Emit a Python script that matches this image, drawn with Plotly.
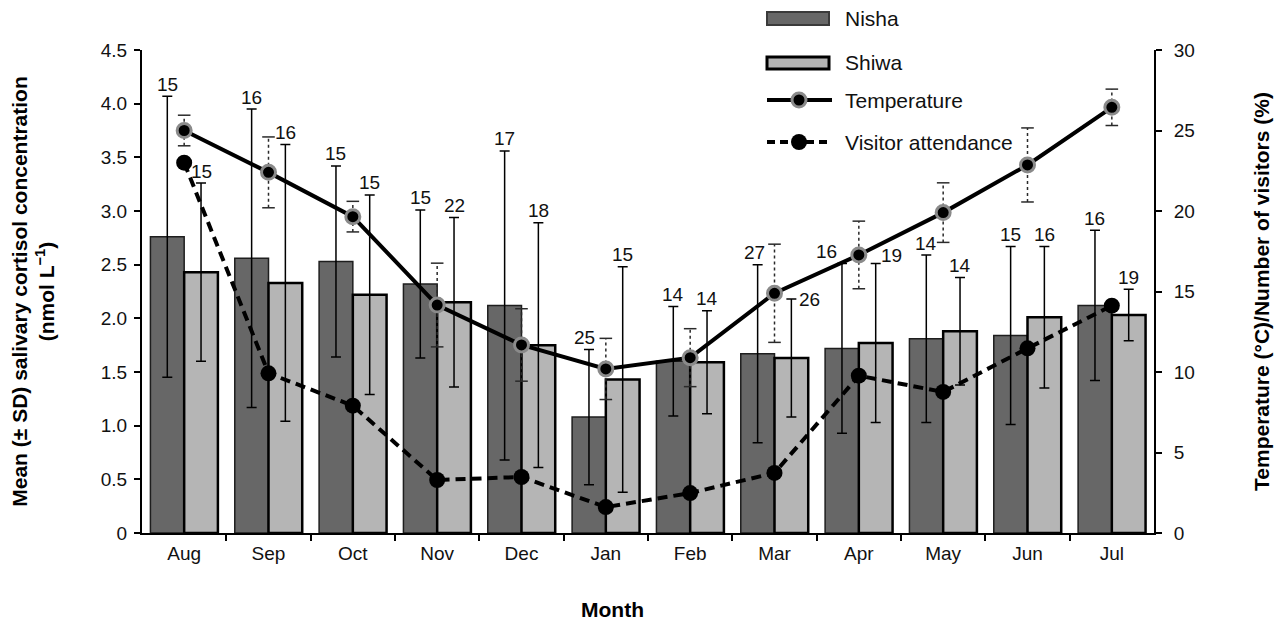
import numpy as np
import plotly.graph_objects as go

# ---------------- data ----------------
months = ["Aug", "Sep", "Oct", "Nov", "Dec", "Jan", "Feb", "Mar", "Apr", "May", "Jun", "Jul"]

nisha_mean = [2.76, 2.56, 2.53, 2.32, 2.12, 1.08, 1.60, 1.67, 1.72, 1.81, 1.84, 2.12]
nisha_sd = [1.31, 1.39, 0.89, 0.69, 1.44, 0.63, 0.51, 0.83, 0.79, 0.78, 0.83, 0.70]
nisha_n = [15, 16, 15, 15, 17, 25, 14, 27, 16, 14, 15, 16]

shiwa_mean = [2.43, 2.33, 2.22, 2.15, 1.75, 1.43, 1.59, 1.63, 1.77, 1.88, 2.01, 2.03]
shiwa_sd = [0.83, 1.29, 0.93, 0.79, 1.14, 1.05, 0.48, 0.55, 0.74, 0.50, 0.66, 0.24]
shiwa_n = [15, 16, 15, 22, 18, 15, 14, 26, 19, 14, 16, 19]

temperature = [25.0, 22.4, 19.65, 14.16, 11.68, 10.19, 10.89, 14.89, 17.27, 19.9, 22.86, 26.44]
temperature_sd = [0.95, 2.2, 0.95, 2.6, 2.25, 1.9, 1.8, 3.05, 2.1, 1.85, 2.3, 1.13]

visitors = [23.0, 9.92, 7.91, 3.29, 3.48, 1.61, 2.48, 3.73, 9.77, 8.76, 11.47, 14.12]

left_ticks = [0, 0.5, 1.0, 1.5, 2.0, 2.5, 3.0, 3.5, 4.0, 4.5]
left_ticktext = ["0", "0.5", "1.0", "1.5", "2.0", "2.5", "3.0", "3.5", "4.0", "4.5"]
right_ticks = [0, 5, 10, 15, 20, 25, 30]

# ---------------- style / layout ----------------
OFF = 8                      # page body margin in the browser
W, H = 1282 - OFF, 637 - OFF
L, R, T, B = 134, 128, 42, 104
PW, PH = W - L - R, H - T - B
FONT = "Liberation Sans, Arial, sans-serif"
NISHA_FILL = "#676767"
SHIWA_FILL = "#b5b5b5"
BAR_W = 0.4

# nudges (px) for some count labels: (series, month) -> (xshift, yshift)
label_nudge = {
    ("Nisha", "Jan"): (-4, 12),
    ("Nisha", "Mar"): (-3, 12),
    ("Shiwa", "Mar"): (18, 0),
    ("Nisha", "Apr"): (-15, 12),
    ("Shiwa", "Apr"): (16, 8),
}


def px2x(p):  # page pixel -> paper x
    return (p - OFF - L) / PW


def px2y(p):  # page pixel -> paper y
    return (OFF + T + PH - p) / PH


idx = np.arange(len(months))

fig = go.Figure()

fig.add_bar(
    x=idx - BAR_W / 2, y=nisha_mean, width=BAR_W, name="Nisha", showlegend=False,
    marker=dict(color=NISHA_FILL, line=dict(color="#1e1e1e", width=1.5)),
    error_y=dict(type="data", array=nisha_sd, color="black", thickness=1.5, width=5),
)
fig.add_bar(
    x=idx + BAR_W / 2, y=shiwa_mean, width=BAR_W, name="Shiwa", showlegend=False,
    marker=dict(color=SHIWA_FILL, line=dict(color="black", width=2.5)),
    error_y=dict(type="data", array=shiwa_sd, color="black", thickness=1.5, width=5),
)

# temperature SD bars (dotted stems + caps)
ex, ey = [], []
for i, (t, s) in enumerate(zip(temperature, temperature_sd)):
    ex += [i, i, None]
    ey += [t - s, t + s, None]
fig.add_scatter(x=ex, y=ey, mode="lines", yaxis="y2", showlegend=False, hoverinfo="skip",
                line=dict(color="#2a2a2a", width=1.5, dash="dot"))
fig.add_scatter(
    x=list(idx) + list(idx),
    y=[t - s for t, s in zip(temperature, temperature_sd)] + [t + s for t, s in zip(temperature, temperature_sd)],
    mode="markers", yaxis="y2", showlegend=False, hoverinfo="skip",
    marker=dict(symbol="line-ew", size=9, line=dict(width=1.5, color="#2a2a2a")),
)

fig.add_scatter(
    x=idx, y=visitors, mode="lines+markers", yaxis="y2", name="Visitor attendance", showlegend=False,
    line=dict(color="black", width=4, dash="10px,6px"),
    marker=dict(color="black", size=16),
)
fig.add_scatter(
    x=idx, y=temperature, mode="lines+markers", yaxis="y2", name="Temperature", showlegend=False,
    line=dict(color="black", width=4),
    marker=dict(color="black", size=14, line=dict(color="#8a8a8a", width=3)),
)

# count labels
annotations = []
for name, means, sds, ns, off in (("Nisha", nisha_mean, nisha_sd, nisha_n, -BAR_W / 2),
                                   ("Shiwa", shiwa_mean, shiwa_sd, shiwa_n, BAR_W / 2)):
    for i, m in enumerate(months):
        xs, ys = label_nudge.get((name, m), (0, 12))
        annotations.append(dict(
            x=i + off, y=means[i] + sds[i], xref="x", yref="y", text=str(ns[i]),
            showarrow=False, xshift=xs, yshift=ys,
            font=dict(family=FONT, size=19, color="#111"),
        ))

# x-axis title
annotations.append(dict(x=px2x(612), y=px2y(623), xref="paper", yref="paper", text="<b>Month</b>",
                        showarrow=False, font=dict(family=FONT, size=21, color="black")))

# manual legend
shapes = []
leg_x0, leg_x1, leg_mx, leg_tx = 767, 829, 799, 843
legend_rows = [("Nisha", 18), ("Shiwa", 63), ("Temperature", 100), ("Visitor attendance", 142)]
shapes.append(dict(type="rect", xref="paper", yref="paper", x0=px2x(leg_x0), x1=px2x(leg_x1),
                   y0=px2y(25), y1=px2y(12), fillcolor=NISHA_FILL, line=dict(color="#3a3a3a", width=2)))
shapes.append(dict(type="rect", xref="paper", yref="paper", x0=px2x(leg_x0), x1=px2x(leg_x1),
                   y0=px2y(69), y1=px2y(57), fillcolor=SHIWA_FILL, line=dict(color="black", width=3)))
shapes.append(dict(type="line", xref="paper", yref="paper", x0=px2x(leg_x0), x1=px2x(832),
                   y0=px2y(100), y1=px2y(100), line=dict(color="black", width=4)))
shapes.append(dict(type="circle", xref="paper", yref="paper", x0=px2x(leg_mx - 7), x1=px2x(leg_mx + 7),
                   y0=px2y(107), y1=px2y(93), fillcolor="black", line=dict(color="#8a8a8a", width=3)))
shapes.append(dict(type="line", xref="paper", yref="paper", x0=px2x(leg_x0), x1=px2x(832),
                   y0=px2y(142), y1=px2y(142), line=dict(color="black", width=4, dash="8px,5px")))
shapes.append(dict(type="circle", xref="paper", yref="paper", x0=px2x(leg_mx - 8), x1=px2x(leg_mx + 8),
                   y0=px2y(150), y1=px2y(134), fillcolor="black", line=dict(color="black", width=0)))
for txt, yy in legend_rows:
    annotations.append(dict(x=px2x(leg_tx), y=px2y(yy), xref="paper", yref="paper", text=txt,
                            xanchor="left", yanchor="middle", showarrow=False,
                            font=dict(family=FONT, size=21, color="#111")))

fig.update_layout(
    width=W, height=H,
    margin=dict(l=L, r=R, t=T, b=B, autoexpand=False),
    paper_bgcolor="white", plot_bgcolor="white",
    barmode="overlay",
    showlegend=False,
    font=dict(family=FONT, size=19, color="#111"),
    annotations=annotations,
    shapes=shapes,
    xaxis=dict(
        range=[-0.5, 11.5], tickmode="array", tickvals=list(idx), ticktext=months,
        ticks="outside", ticklen=2, tickcolor="rgba(0,0,0,0)",
        minor=dict(tickmode="array", tickvals=[i + 0.5 for i in idx[:-1]], ticks="outside",
                   ticklen=6, tickwidth=2, tickcolor="black", showgrid=False),
        showline=True, linecolor="black", linewidth=2, showgrid=False, zeroline=False,
        tickfont=dict(family=FONT, size=19, color="#111"),
    ),
    yaxis=dict(
        range=[0, 4.5], tickmode="array", tickvals=left_ticks, ticktext=left_ticktext,
        ticks="outside", ticklen=6, tickwidth=2, tickcolor="black", ticklabelstandoff=3,
        showline=True, linecolor="black", linewidth=2, showgrid=False, zeroline=False,
        tickfont=dict(family=FONT, size=19, color="#111"),
        title=dict(text="<b>Mean (± SD) salivary cortisol concentration<br>(nmol L<sup>−1</sup>)</b>",
                   font=dict(family=FONT, size=21, color="black"), standoff=45),
    ),
    yaxis2=dict(
        range=[0, 30], overlaying="y", side="right", tickmode="array", tickvals=right_ticks,
        ticks="outside", ticklen=6, tickwidth=2, tickcolor="black", ticklabelstandoff=8,
        showline=True, linecolor="black", linewidth=2, showgrid=False, zeroline=False,
        tickfont=dict(family=FONT, size=19, color="#111"),
        title=dict(text="<b>Temperature (°C)/Number of visitors (%)</b>",
                   font=dict(family=FONT, size=21, color="black"), standoff=60),
    ),
)

fig.write_html("out.html")
